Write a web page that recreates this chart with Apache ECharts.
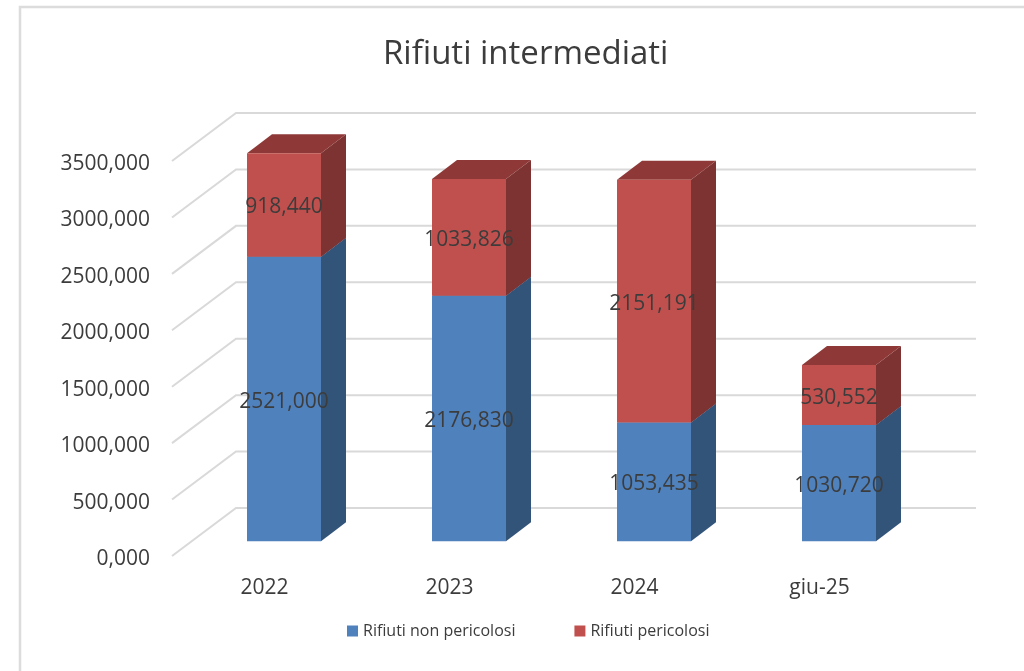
<!DOCTYPE html>
<html><head><meta charset="utf-8">
<style>html,body{margin:0;padding:0;background:#fff}#c{width:1024px;height:671px}</style>
<script src="https://cdn.jsdelivr.net/npm/echarts@6/dist/echarts.min.js"></script>
</head><body><div id="c"></div>
<script>
const categories = ['2022','2023','2024','giu-25'];
const nonPericolosi = [2521.000, 2176.830, 1053.435, 1030.720];
const pericolosi = [918.440, 1033.826, 2151.191, 530.552];
const ticks = [0,500,1000,1500,2000,2500,3000,3500];

const fmt = v => v.toFixed(3).replace('.',',');
const FONT = '"Open Sans", sans-serif';
const TXT = '#3c3c3c';
const WALL = {dx:64, dy:-48, right:976};
const BAR = {w:74, offX:19.5, offY:-14.7, dx:25, dy:-19};

function wallItem(params, api){
  const cs = params.coordSys;
  const y = api.coord([0, api.value(0)])[1];
  return {type:'polyline', silent:true,
    shape:{points:[[cs.x,y],[cs.x+WALL.dx,y+WALL.dy],[WALL.right,y+WALL.dy]]},
    style:{stroke:'#d9d9d9', lineWidth:2, fill:null}};
}
function barItem(colors){
  return function(params, api){
    const cat = api.value(0), lo = api.value(1), hi = api.value(2);
    const pLo = api.coord([cat, lo]), pHi = api.coord([cat, hi]);
    const cx = pLo[0]+BAR.offX;
    const x0 = cx-BAR.w/2, x1 = cx+BAR.w/2;
    const yB = pLo[1]+BAR.offY, yT = pHi[1]+BAR.offY;
    return {type:'group', children:[
      {type:'polygon', shape:{points:[[x1,yB],[x1+BAR.dx,yB+BAR.dy],[x1+BAR.dx,yT+BAR.dy],[x1,yT]]}, style:{fill:colors.side}},
      {type:'polygon', shape:{points:[[x0,yT],[x1,yT],[x1+BAR.dx,yT+BAR.dy],[x0+BAR.dx,yT+BAR.dy]]}, style:{fill:colors.top}},
      {type:'rect', shape:{x:x0,y:yT,width:BAR.w,height:yB-yT}, style:{fill:colors.front}},
      {type:'text', z2:50, style:{x:cx,y:(yT+yB)/2+2.5,text:fmt(hi-lo),align:'center',verticalAlign:'middle',
        fill:TXT,font:'21px '+FONT}}
    ]};
  };
}
const blueData = categories.map((c,i)=>[i,0,nonPericolosi[i]]);
const redData = categories.map((c,i)=>[i,nonPericolosi[i],nonPericolosi[i]+pericolosi[i]]);

const chart = echarts.init(document.getElementById('c'),null,{renderer:'canvas'});
chart.setOption({
  animation:false,
  backgroundColor:'#fff',
  graphic:[{type:'polyline',silent:true,shape:{points:[[20,671],[20,7],[1024,7]]},style:{stroke:'#dcdcdc',lineWidth:2.5,fill:null}}],
  title:{text:'Rifiuti intermediati',left:378,top:33,
    textStyle:{fontFamily:FONT,fontSize:33,fontWeight:'normal',color:TXT}},
  grid:{left:172,top:161,width:740,height:395},
  legend:{left:342,top:618,itemWidth:11,itemHeight:11,itemGap:59,icon:'rect',
    data:['Rifiuti non pericolosi','Rifiuti pericolosi'],
    textStyle:{fontFamily:FONT,fontSize:16,color:TXT}},
  xAxis:{type:'category',data:categories,axisLine:{show:false},axisTick:{show:false},splitLine:{show:false},
    axisLabel:{fontFamily:FONT,fontSize:21,color:TXT,margin:22}},
  yAxis:{type:'value',min:0,max:3500,interval:500,axisLine:{show:false},axisTick:{show:false},splitLine:{show:false},
    axisLabel:{fontFamily:FONT,fontSize:21,color:TXT,margin:22,verticalAlign:'top',lineHeight:6,formatter:v=>fmt(v)}},
  series:[
    {type:'custom',name:'wall',silent:true,z:1,data:ticks.map(t=>[t]),renderItem:wallItem,encode:{y:0}},
    {type:'custom',name:'Rifiuti non pericolosi',z:2,itemStyle:{color:'#4F81BD'},data:blueData,encode:{x:0,y:[1,2]},
     renderItem:barItem({front:'#4F81BD',side:'#335479',top:'#3d6590'})},
    {type:'custom',name:'Rifiuti pericolosi',z:3,itemStyle:{color:'#C0504D'},data:redData,encode:{x:0,y:[1,2]},
     renderItem:barItem({front:'#C0504D',side:'#7C3331',top:'#8E3937'})}
  ]
});
</script></body></html>
